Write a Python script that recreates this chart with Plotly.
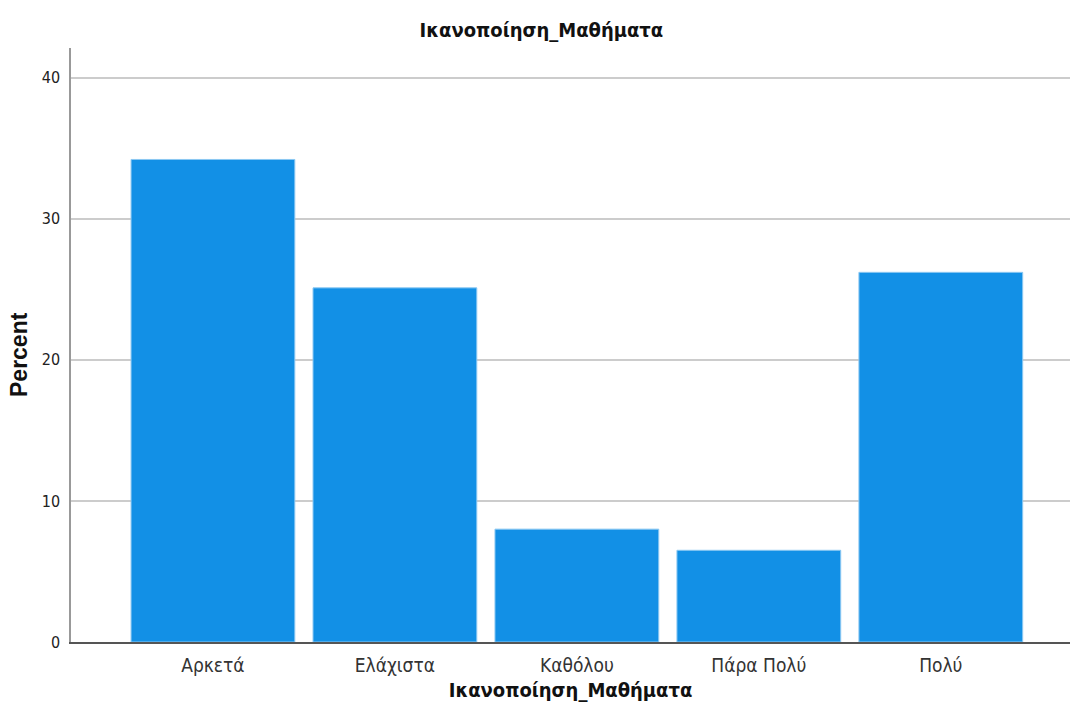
import plotly.graph_objects as go

categories = ["Αρκετά", "Ελάχιστα", "Καθόλου", "Πάρα Πολύ", "Πολύ"]
percent = [34.2, 25.1, 8.0, 6.5, 26.2]
y_ticks = [0, 10, 20, 30, 40]

NARROW = "Liberation Sans Narrow, Arial Narrow, DejaVu Sans Condensed, sans-serif"

fig = go.Figure(go.Bar(
    x=categories, y=percent,
    marker=dict(color="#1290E6", line=dict(color="#8CC8F2", width=1)),
    width=0.9,
))

fig.update_layout(
    width=1070, height=727,
    margin=dict(l=71, r=0, t=48, b=85),
    paper_bgcolor="white", plot_bgcolor="white",
    font=dict(family=NARROW, color="#222222"),
    title=dict(text="<b>Ικανοποίηση_Μαθήματα</b>", x=0.506, xanchor="center",
               y=1 - 30 / 727, yanchor="middle",
               font=dict(family=NARROW, size=20, color="#111111")),
    showlegend=False,
    annotations=[dict(
        text="<b>Percent</b>", textangle=-90, showarrow=False,
        xref="paper", yref="paper",
        x=(19 - 71) / 999, y=(642 - 355) / 594, xanchor="center", yanchor="middle",
        font=dict(family="Liberation Sans, Arial, sans-serif", size=23, color="#111111"),
    )],
)
fig.update_xaxes(
    range=[-0.78, 4.71], showline=True, linecolor="#555555", linewidth=1.5,
    ticks="", ticklabelstandoff=5, tickfont=dict(family=NARROW, size=19, color="#333333"),
    title=dict(text="<b>Ικανοποίηση_Μαθήματα</b>",
               font=dict(family=NARROW, size=20, color="#111111"), standoff=8),
)
fig.update_yaxes(
    range=[0, 42.1], tickvals=y_ticks, showline=True, linecolor="#999999", linewidth=1.5,
    showgrid=True, gridcolor="#CCCCCC", gridwidth=1.5, zeroline=False,
    ticks="", ticklabelstandoff=6, tickfont=dict(family=NARROW, size=16, color="#222222"),
)

fig.write_html("out.html", config={"displayModeBar": False},
               post_script="document.body.style.margin='0';")
